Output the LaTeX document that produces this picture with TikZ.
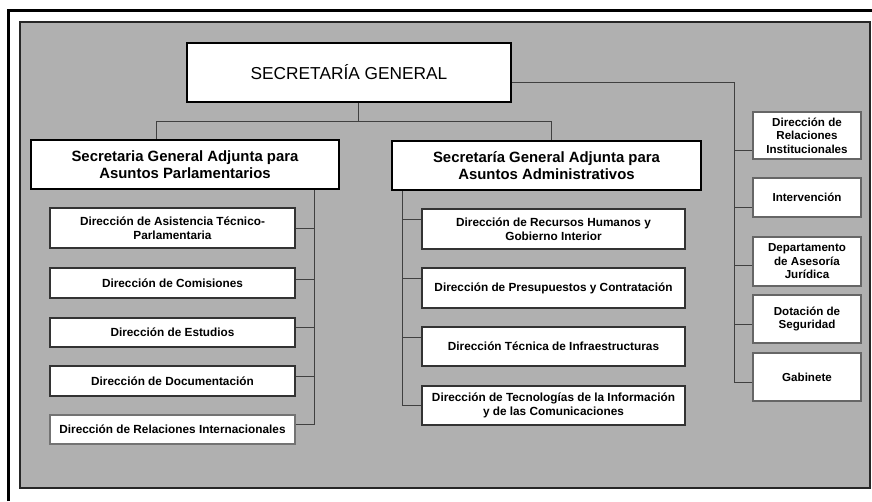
\documentclass[tikz,border=0pt]{standalone}
\usepackage{fontspec}
\setmainfont{Liberation Sans}
\usepackage{tikz}

\definecolor{panelgrey}{RGB}{176,176,176}

\begin{document}
\begin{tikzpicture}[x=1pt,y=-1pt]
\tikzset{head/.style = {draw=black,fill=white,line width=2.6pt,inner sep=0pt,align=center}}
\tikzset{unit/.style = {draw=black!80,fill=white,line width=1.2pt,inner sep=0pt,align=center,
  font=\fontsize{11.8}{14.5}\selectfont\bfseries}}
\tikzset{side/.style = {unit,minimum width=108pt,draw=black!60,font=\fontsize{11.6}{13.5}\selectfont\bfseries}}
\tikzset{edge/.style = {-,draw=black!75,line width=1pt}}
\useasboundingbox (0,0) rectangle (872,501);

% frame
\draw[line width=3pt] (8,501) -- (8,10) -- (872,10);
\draw[fill=panelgrey,draw=black!85,line width=2pt] (20,22) rectangle (870,488);

% top
\node[head,minimum width=324pt,minimum height=59pt,font=\fontsize{17.3}{20}\selectfont] (sg) at (349,72.5) {SECRETARÍA GENERAL};
\node[head,minimum width=308pt,minimum height=49pt,font=\fontsize{14.9}{17.5}\selectfont\bfseries] (sgp) at (185,164.5)
  {Secretaria General Adjunta para\\Asuntos Parlamentarios};
\node[head,minimum width=309pt,minimum height=49pt,font=\fontsize{14.9}{17.5}\selectfont\bfseries] (sga) at (546.5,165.5)
  {Secretaría General Adjunta para\\Asuntos Administrativos};

% parlamentarios
\node[unit,minimum width=245pt,minimum height=40pt] (dat) at (172.5,228) {Dirección de Asistencia Técnico-\\Parlamentaria};
\node[unit,minimum width=245pt,minimum height=30pt] (dcom) at (172.5,283) {Dirección de Comisiones};
\node[unit,minimum width=245pt,minimum height=29pt] (dest) at (172.5,332.5) {Dirección de Estudios};
\node[unit,minimum width=245pt,minimum height=30pt] (ddoc) at (172.5,381) {Dirección de Documentación};
\node[unit,minimum width=245pt,minimum height=29pt,draw=black!55] (dri) at (172.5,429.5) {Dirección de Relaciones Internacionales};

% administrativos
\node[unit,minimum width=263pt,minimum height=40pt] (drh) at (553.5,229) {Dirección de Recursos Humanos y\\Gobierno Interior};
\node[unit,minimum width=263pt,minimum height=40pt] (dpre) at (553.5,288) {Dirección de Presupuestos y Contratación};
\node[unit,minimum width=263pt,minimum height=39pt] (dtec) at (553.5,346.5) {Dirección Técnica de Infraestructuras};
\node[unit,minimum width=263pt,minimum height=39pt] (dtic) at (553.5,405.5) {Dirección de Tecnologías de la Información\\y de las Comunicaciones};

% dependencias directas
\node[side,minimum height=47pt] (dris) at (807,135.5) {Dirección de\\Relaciones\\Institucionales};
\node[side,minimum height=39pt] (dint) at (807,197.5) {Intervención};
\node[side,minimum height=49pt] (ddep) at (807,261.5) {Departamento\\de Asesoría\\Jurídica};
\node[side,minimum height=48pt] (ddot) at (807,319) {Dotación de\\Seguridad};
\node[side,minimum height=48pt] (dgab) at (807,377) {Gabinete};

\coordinate (jt) at (358,121);
\coordinate (jl) at (156,121);
\coordinate (jr) at (551,121);
\coordinate (lv) at (314,0);
\coordinate (mv) at (402,0);
\coordinate (rv) at (734,0);

\draw[edge] (sg.south -| jt) to (jt);
\draw[edge] (jl) to (jr);
\draw[edge] (jl) to (jl |- sgp.north);
\draw[edge] (jr) to (jr |- sga.north);

\draw[edge] (lv |- sgp.south) to ([yshift=5pt]lv |- dri.east);
\draw[edge] (dat.east) to (dat.east -| lv);
\draw[edge] ([yshift=4pt]dcom.east) to ([yshift=4pt]dcom.east -| lv);
\draw[edge] ([yshift=5pt]dest.east) to ([yshift=5pt]dest.east -| lv);
\draw[edge] ([yshift=5pt]ddoc.east) to ([yshift=5pt]ddoc.east -| lv);
\draw[edge] ([yshift=5pt]dri.east) to ([yshift=5pt]dri.east -| lv);

\draw[edge] (mv |- sga.south) to (mv |- dtic.west);
\draw[edge] ([yshift=10pt]drh.west) to ([yshift=10pt]drh.west -| mv);
\draw[edge] ([yshift=10pt]dpre.west) to ([yshift=10pt]dpre.west -| mv);
\draw[edge] ([yshift=9.5pt]dtec.west) to ([yshift=9.5pt]dtec.west -| mv);
\draw[edge] (dtic.west) to (dtic.west -| mv);

\draw[edge] ([yshift=-9.5pt]sg.east) -| ([yshift=-5pt]rv |- dgab.west);
\draw[edge] ([yshift=-14.5pt]dris.west) to ([yshift=-14.5pt]dris.west -| rv);
\draw[edge] ([yshift=-9.5pt]dint.west) to ([yshift=-9.5pt]dint.west -| rv);
\draw[edge] ([yshift=-3.5pt]ddep.west) to ([yshift=-3.5pt]ddep.west -| rv);
\draw[edge] ([yshift=-5pt]ddot.west) to ([yshift=-5pt]ddot.west -| rv);
\draw[edge] ([yshift=-5pt]dgab.west) to ([yshift=-5pt]dgab.west -| rv);
\end{tikzpicture}
\end{document}
